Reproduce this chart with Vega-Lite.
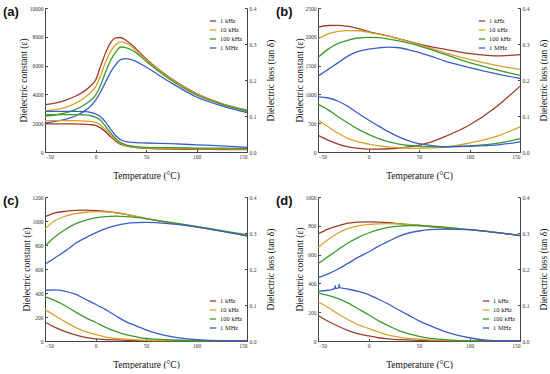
{
"$schema": "https://vega.github.io/schema/vega-lite/v6.json",
"background": "white",
"padding": {"left": 3, "top": 6, "right": 0, "bottom": 0},
"columns": 2,
"spacing": {"row": 45, "column": 71},
"bounds": "flush",
"resolve": {"legend": {"color": "independent"}},
"config": {
  "view": {"stroke": null},
  "axis": {"labelFont": "Liberation Serif", "titleFont": "Liberation Serif", "labelFontSize": 5.5, "titleFontSize": 9.5, "titleFontWeight": "normal", "labelColor": "#333", "titleColor": "#111", "domainColor": "#444", "tickColor": "#444", "grid": false, "tickSize": -2.5, "labelPadding": 4.5},
  "legend": {"labelFont": "Liberation Serif", "labelFontSize": 6.5, "labelColor": "#222", "symbolType": "stroke", "symbolSize": 40, "symbolStrokeWidth": 1.5, "rowPadding": 1, "labelOffset": 3, "padding": 0},
  "line": {"strokeWidth": 1.3, "interpolate": "monotone"},
  "title": {"font": "Liberation Sans", "fontSize": 13, "fontWeight": "bold", "color": "#111", "anchor": "start", "frame": "group", "offset": 0}
},
"data": {"values": [
{"p":"a","k":"e","f":"1 kHz","T":-50,"v":3290},{"p":"a","k":"e","f":"1 kHz","T":-40,"v":3400},{"p":"a","k":"e","f":"1 kHz","T":-30,"v":3590},{"p":"a","k":"e","f":"1 kHz","T":-20,"v":3870},{"p":"a","k":"e","f":"1 kHz","T":-10,"v":4280},{"p":"a","k":"e","f":"1 kHz","T":-5,"v":4580},{"p":"a","k":"e","f":"1 kHz","T":0,"v":4980},{"p":"a","k":"e","f":"1 kHz","T":5,"v":5950},{"p":"a","k":"e","f":"1 kHz","T":10,"v":6900},{"p":"a","k":"e","f":"1 kHz","T":15,"v":7600},{"p":"a","k":"e","f":"1 kHz","T":20,"v":7930},{"p":"a","k":"e","f":"1 kHz","T":25,"v":7950},{"p":"a","k":"e","f":"1 kHz","T":30,"v":7760},{"p":"a","k":"e","f":"1 kHz","T":40,"v":7180},{"p":"a","k":"e","f":"1 kHz","T":50,"v":6480},{"p":"a","k":"e","f":"1 kHz","T":75,"v":5100},{"p":"a","k":"e","f":"1 kHz","T":100,"v":4050},{"p":"a","k":"e","f":"1 kHz","T":125,"v":3360},{"p":"a","k":"e","f":"1 kHz","T":150,"v":2900},
{"p":"a","k":"e","f":"10 kHz","T":-50,"v":2850},{"p":"a","k":"e","f":"10 kHz","T":-40,"v":2940},{"p":"a","k":"e","f":"10 kHz","T":-30,"v":3100},{"p":"a","k":"e","f":"10 kHz","T":-20,"v":3380},{"p":"a","k":"e","f":"10 kHz","T":-10,"v":3820},{"p":"a","k":"e","f":"10 kHz","T":-5,"v":4120},{"p":"a","k":"e","f":"10 kHz","T":0,"v":4510},{"p":"a","k":"e","f":"10 kHz","T":5,"v":5300},{"p":"a","k":"e","f":"10 kHz","T":10,"v":6250},{"p":"a","k":"e","f":"10 kHz","T":15,"v":6990},{"p":"a","k":"e","f":"10 kHz","T":20,"v":7450},{"p":"a","k":"e","f":"10 kHz","T":25,"v":7650},{"p":"a","k":"e","f":"10 kHz","T":30,"v":7570},{"p":"a","k":"e","f":"10 kHz","T":40,"v":7060},{"p":"a","k":"e","f":"10 kHz","T":50,"v":6400},{"p":"a","k":"e","f":"10 kHz","T":75,"v":5060},{"p":"a","k":"e","f":"10 kHz","T":100,"v":4020},{"p":"a","k":"e","f":"10 kHz","T":125,"v":3340},{"p":"a","k":"e","f":"10 kHz","T":150,"v":2880},
{"p":"a","k":"e","f":"100 kHz","T":-50,"v":2500},{"p":"a","k":"e","f":"100 kHz","T":-40,"v":2570},{"p":"a","k":"e","f":"100 kHz","T":-30,"v":2710},{"p":"a","k":"e","f":"100 kHz","T":-20,"v":2940},{"p":"a","k":"e","f":"100 kHz","T":-10,"v":3310},{"p":"a","k":"e","f":"100 kHz","T":-5,"v":3580},{"p":"a","k":"e","f":"100 kHz","T":0,"v":3940},{"p":"a","k":"e","f":"100 kHz","T":5,"v":4630},{"p":"a","k":"e","f":"100 kHz","T":10,"v":5550},{"p":"a","k":"e","f":"100 kHz","T":15,"v":6370},{"p":"a","k":"e","f":"100 kHz","T":20,"v":6940},{"p":"a","k":"e","f":"100 kHz","T":25,"v":7290},{"p":"a","k":"e","f":"100 kHz","T":30,"v":7250},{"p":"a","k":"e","f":"100 kHz","T":40,"v":6900},{"p":"a","k":"e","f":"100 kHz","T":50,"v":6300},{"p":"a","k":"e","f":"100 kHz","T":75,"v":4980},{"p":"a","k":"e","f":"100 kHz","T":100,"v":3960},{"p":"a","k":"e","f":"100 kHz","T":125,"v":3300},{"p":"a","k":"e","f":"100 kHz","T":150,"v":2830},
{"p":"a","k":"e","f":"1 MHz","T":-50,"v":2010},{"p":"a","k":"e","f":"1 MHz","T":-40,"v":2130},{"p":"a","k":"e","f":"1 MHz","T":-30,"v":2270},{"p":"a","k":"e","f":"1 MHz","T":-20,"v":2500},{"p":"a","k":"e","f":"1 MHz","T":-10,"v":2890},{"p":"a","k":"e","f":"1 MHz","T":-5,"v":3180},{"p":"a","k":"e","f":"1 MHz","T":0,"v":3590},{"p":"a","k":"e","f":"1 MHz","T":5,"v":4170},{"p":"a","k":"e","f":"1 MHz","T":10,"v":4860},{"p":"a","k":"e","f":"1 MHz","T":15,"v":5550},{"p":"a","k":"e","f":"1 MHz","T":20,"v":6070},{"p":"a","k":"e","f":"1 MHz","T":25,"v":6410},{"p":"a","k":"e","f":"1 MHz","T":30,"v":6480},{"p":"a","k":"e","f":"1 MHz","T":40,"v":6300},{"p":"a","k":"e","f":"1 MHz","T":50,"v":5900},{"p":"a","k":"e","f":"1 MHz","T":75,"v":4800},{"p":"a","k":"e","f":"1 MHz","T":100,"v":3820},{"p":"a","k":"e","f":"1 MHz","T":125,"v":3200},{"p":"a","k":"e","f":"1 MHz","T":150,"v":2740},
{"p":"a","k":"l","f":"1 kHz","T":-50,"v":0.078},{"p":"a","k":"l","f":"1 kHz","T":-40,"v":0.078},{"p":"a","k":"l","f":"1 kHz","T":-30,"v":0.078},{"p":"a","k":"l","f":"1 kHz","T":-20,"v":0.078},{"p":"a","k":"l","f":"1 kHz","T":-10,"v":0.077},{"p":"a","k":"l","f":"1 kHz","T":-5,"v":0.076},{"p":"a","k":"l","f":"1 kHz","T":0,"v":0.074},{"p":"a","k":"l","f":"1 kHz","T":5,"v":0.067},{"p":"a","k":"l","f":"1 kHz","T":10,"v":0.056},{"p":"a","k":"l","f":"1 kHz","T":15,"v":0.042},{"p":"a","k":"l","f":"1 kHz","T":20,"v":0.030},{"p":"a","k":"l","f":"1 kHz","T":25,"v":0.021},{"p":"a","k":"l","f":"1 kHz","T":30,"v":0.017},{"p":"a","k":"l","f":"1 kHz","T":40,"v":0.012},{"p":"a","k":"l","f":"1 kHz","T":50,"v":0.010},{"p":"a","k":"l","f":"1 kHz","T":75,"v":0.008},{"p":"a","k":"l","f":"1 kHz","T":100,"v":0.0075},{"p":"a","k":"l","f":"1 kHz","T":125,"v":0.007},{"p":"a","k":"l","f":"1 kHz","T":150,"v":0.0065},
{"p":"a","k":"l","f":"10 kHz","T":-50,"v":0.087},{"p":"a","k":"l","f":"10 kHz","T":-40,"v":0.087},{"p":"a","k":"l","f":"10 kHz","T":-30,"v":0.087},{"p":"a","k":"l","f":"10 kHz","T":-20,"v":0.087},{"p":"a","k":"l","f":"10 kHz","T":-10,"v":0.086},{"p":"a","k":"l","f":"10 kHz","T":-5,"v":0.085},{"p":"a","k":"l","f":"10 kHz","T":0,"v":0.082},{"p":"a","k":"l","f":"10 kHz","T":5,"v":0.075},{"p":"a","k":"l","f":"10 kHz","T":10,"v":0.062},{"p":"a","k":"l","f":"10 kHz","T":15,"v":0.047},{"p":"a","k":"l","f":"10 kHz","T":20,"v":0.033},{"p":"a","k":"l","f":"10 kHz","T":25,"v":0.023},{"p":"a","k":"l","f":"10 kHz","T":30,"v":0.018},{"p":"a","k":"l","f":"10 kHz","T":40,"v":0.013},{"p":"a","k":"l","f":"10 kHz","T":50,"v":0.011},{"p":"a","k":"l","f":"10 kHz","T":75,"v":0.0095},{"p":"a","k":"l","f":"10 kHz","T":100,"v":0.009},{"p":"a","k":"l","f":"10 kHz","T":125,"v":0.0085},{"p":"a","k":"l","f":"10 kHz","T":150,"v":0.008},
{"p":"a","k":"l","f":"100 kHz","T":-50,"v":0.104},{"p":"a","k":"l","f":"100 kHz","T":-40,"v":0.104},{"p":"a","k":"l","f":"100 kHz","T":-30,"v":0.104},{"p":"a","k":"l","f":"100 kHz","T":-20,"v":0.104},{"p":"a","k":"l","f":"100 kHz","T":-10,"v":0.103},{"p":"a","k":"l","f":"100 kHz","T":-5,"v":0.101},{"p":"a","k":"l","f":"100 kHz","T":0,"v":0.097},{"p":"a","k":"l","f":"100 kHz","T":5,"v":0.088},{"p":"a","k":"l","f":"100 kHz","T":10,"v":0.071},{"p":"a","k":"l","f":"100 kHz","T":15,"v":0.053},{"p":"a","k":"l","f":"100 kHz","T":20,"v":0.037},{"p":"a","k":"l","f":"100 kHz","T":25,"v":0.026},{"p":"a","k":"l","f":"100 kHz","T":30,"v":0.020},{"p":"a","k":"l","f":"100 kHz","T":40,"v":0.015},{"p":"a","k":"l","f":"100 kHz","T":50,"v":0.013},{"p":"a","k":"l","f":"100 kHz","T":75,"v":0.012},{"p":"a","k":"l","f":"100 kHz","T":100,"v":0.011},{"p":"a","k":"l","f":"100 kHz","T":125,"v":0.0105},{"p":"a","k":"l","f":"100 kHz","T":150,"v":0.010},
{"p":"a","k":"l","f":"1 MHz","T":-50,"v":0.113},{"p":"a","k":"l","f":"1 MHz","T":-40,"v":0.113},{"p":"a","k":"l","f":"1 MHz","T":-30,"v":0.113},{"p":"a","k":"l","f":"1 MHz","T":-20,"v":0.113},{"p":"a","k":"l","f":"1 MHz","T":-10,"v":0.112},{"p":"a","k":"l","f":"1 MHz","T":-5,"v":0.110},{"p":"a","k":"l","f":"1 MHz","T":0,"v":0.106},{"p":"a","k":"l","f":"1 MHz","T":5,"v":0.098},{"p":"a","k":"l","f":"1 MHz","T":10,"v":0.083},{"p":"a","k":"l","f":"1 MHz","T":15,"v":0.063},{"p":"a","k":"l","f":"1 MHz","T":20,"v":0.045},{"p":"a","k":"l","f":"1 MHz","T":25,"v":0.034},{"p":"a","k":"l","f":"1 MHz","T":30,"v":0.029},{"p":"a","k":"l","f":"1 MHz","T":40,"v":0.026},{"p":"a","k":"l","f":"1 MHz","T":50,"v":0.025},{"p":"a","k":"l","f":"1 MHz","T":75,"v":0.023},{"p":"a","k":"l","f":"1 MHz","T":100,"v":0.020},{"p":"a","k":"l","f":"1 MHz","T":125,"v":0.017},{"p":"a","k":"l","f":"1 MHz","T":150,"v":0.013},

{"p":"b","k":"e","f":"1 kHz","T":-50,"v":2166},{"p":"b","k":"e","f":"1 kHz","T":-40,"v":2196},{"p":"b","k":"e","f":"1 kHz","T":-30,"v":2200},{"p":"b","k":"e","f":"1 kHz","T":-20,"v":2180},{"p":"b","k":"e","f":"1 kHz","T":-10,"v":2140},{"p":"b","k":"e","f":"1 kHz","T":0,"v":2090},{"p":"b","k":"e","f":"1 kHz","T":10,"v":2050},{"p":"b","k":"e","f":"1 kHz","T":20,"v":2010},{"p":"b","k":"e","f":"1 kHz","T":30,"v":1965},{"p":"b","k":"e","f":"1 kHz","T":40,"v":1920},{"p":"b","k":"e","f":"1 kHz","T":50,"v":1873},{"p":"b","k":"e","f":"1 kHz","T":60,"v":1835},{"p":"b","k":"e","f":"1 kHz","T":75,"v":1786},{"p":"b","k":"e","f":"1 kHz","T":100,"v":1710},{"p":"b","k":"e","f":"1 kHz","T":125,"v":1670},{"p":"b","k":"e","f":"1 kHz","T":150,"v":1690},
{"p":"b","k":"e","f":"10 kHz","T":-50,"v":1961},{"p":"b","k":"e","f":"10 kHz","T":-40,"v":2049},{"p":"b","k":"e","f":"10 kHz","T":-30,"v":2096},{"p":"b","k":"e","f":"10 kHz","T":-20,"v":2108},{"p":"b","k":"e","f":"10 kHz","T":-10,"v":2105},{"p":"b","k":"e","f":"10 kHz","T":0,"v":2078},{"p":"b","k":"e","f":"10 kHz","T":10,"v":2045},{"p":"b","k":"e","f":"10 kHz","T":20,"v":2010},{"p":"b","k":"e","f":"10 kHz","T":30,"v":1965},{"p":"b","k":"e","f":"10 kHz","T":40,"v":1915},{"p":"b","k":"e","f":"10 kHz","T":50,"v":1862},{"p":"b","k":"e","f":"10 kHz","T":60,"v":1810},{"p":"b","k":"e","f":"10 kHz","T":75,"v":1727},{"p":"b","k":"e","f":"10 kHz","T":100,"v":1610},{"p":"b","k":"e","f":"10 kHz","T":125,"v":1510},{"p":"b","k":"e","f":"10 kHz","T":150,"v":1434},
{"p":"b","k":"e","f":"100 kHz","T":-50,"v":1639},{"p":"b","k":"e","f":"100 kHz","T":-40,"v":1786},{"p":"b","k":"e","f":"100 kHz","T":-30,"v":1885},{"p":"b","k":"e","f":"100 kHz","T":-20,"v":1944},{"p":"b","k":"e","f":"100 kHz","T":-10,"v":1979},{"p":"b","k":"e","f":"100 kHz","T":0,"v":1990},{"p":"b","k":"e","f":"100 kHz","T":10,"v":1985},{"p":"b","k":"e","f":"100 kHz","T":20,"v":1960},{"p":"b","k":"e","f":"100 kHz","T":30,"v":1930},{"p":"b","k":"e","f":"100 kHz","T":40,"v":1890},{"p":"b","k":"e","f":"100 kHz","T":50,"v":1844},{"p":"b","k":"e","f":"100 kHz","T":60,"v":1790},{"p":"b","k":"e","f":"100 kHz","T":75,"v":1698},{"p":"b","k":"e","f":"100 kHz","T":100,"v":1552},{"p":"b","k":"e","f":"100 kHz","T":125,"v":1434},{"p":"b","k":"e","f":"100 kHz","T":150,"v":1329},
{"p":"b","k":"e","f":"1 MHz","T":-50,"v":1317},{"p":"b","k":"e","f":"1 MHz","T":-40,"v":1434},{"p":"b","k":"e","f":"1 MHz","T":-30,"v":1551},{"p":"b","k":"e","f":"1 MHz","T":-20,"v":1669},{"p":"b","k":"e","f":"1 MHz","T":-10,"v":1745},{"p":"b","k":"e","f":"1 MHz","T":0,"v":1786},{"p":"b","k":"e","f":"1 MHz","T":10,"v":1809},{"p":"b","k":"e","f":"1 MHz","T":20,"v":1821},{"p":"b","k":"e","f":"1 MHz","T":30,"v":1810},{"p":"b","k":"e","f":"1 MHz","T":40,"v":1775},{"p":"b","k":"e","f":"1 MHz","T":50,"v":1727},{"p":"b","k":"e","f":"1 MHz","T":60,"v":1675},{"p":"b","k":"e","f":"1 MHz","T":75,"v":1581},{"p":"b","k":"e","f":"1 MHz","T":100,"v":1464},{"p":"b","k":"e","f":"1 MHz","T":125,"v":1364},{"p":"b","k":"e","f":"1 MHz","T":150,"v":1276},
{"p":"b","k":"l","f":"1 kHz","T":-50,"v":0.047},{"p":"b","k":"l","f":"1 kHz","T":-40,"v":0.033},{"p":"b","k":"l","f":"1 kHz","T":-30,"v":0.022},{"p":"b","k":"l","f":"1 kHz","T":-20,"v":0.014},{"p":"b","k":"l","f":"1 kHz","T":-10,"v":0.010},{"p":"b","k":"l","f":"1 kHz","T":0,"v":0.008},{"p":"b","k":"l","f":"1 kHz","T":10,"v":0.008},{"p":"b","k":"l","f":"1 kHz","T":20,"v":0.009},{"p":"b","k":"l","f":"1 kHz","T":30,"v":0.011},{"p":"b","k":"l","f":"1 kHz","T":40,"v":0.014},{"p":"b","k":"l","f":"1 kHz","T":50,"v":0.019},{"p":"b","k":"l","f":"1 kHz","T":60,"v":0.026},{"p":"b","k":"l","f":"1 kHz","T":75,"v":0.042},{"p":"b","k":"l","f":"1 kHz","T":100,"v":0.075},{"p":"b","k":"l","f":"1 kHz","T":125,"v":0.122},{"p":"b","k":"l","f":"1 kHz","T":150,"v":0.183},
{"p":"b","k":"l","f":"10 kHz","T":-50,"v":0.089},{"p":"b","k":"l","f":"10 kHz","T":-40,"v":0.070},{"p":"b","k":"l","f":"10 kHz","T":-30,"v":0.052},{"p":"b","k":"l","f":"10 kHz","T":-20,"v":0.037},{"p":"b","k":"l","f":"10 kHz","T":-10,"v":0.028},{"p":"b","k":"l","f":"10 kHz","T":0,"v":0.022},{"p":"b","k":"l","f":"10 kHz","T":10,"v":0.017},{"p":"b","k":"l","f":"10 kHz","T":20,"v":0.014},{"p":"b","k":"l","f":"10 kHz","T":30,"v":0.012},{"p":"b","k":"l","f":"10 kHz","T":40,"v":0.010},{"p":"b","k":"l","f":"10 kHz","T":50,"v":0.010},{"p":"b","k":"l","f":"10 kHz","T":60,"v":0.011},{"p":"b","k":"l","f":"10 kHz","T":75,"v":0.013},{"p":"b","k":"l","f":"10 kHz","T":100,"v":0.025},{"p":"b","k":"l","f":"10 kHz","T":125,"v":0.042},{"p":"b","k":"l","f":"10 kHz","T":150,"v":0.070},
{"p":"b","k":"l","f":"100 kHz","T":-50,"v":0.133},{"p":"b","k":"l","f":"100 kHz","T":-40,"v":0.117},{"p":"b","k":"l","f":"100 kHz","T":-30,"v":0.098},{"p":"b","k":"l","f":"100 kHz","T":-20,"v":0.080},{"p":"b","k":"l","f":"100 kHz","T":-10,"v":0.063},{"p":"b","k":"l","f":"100 kHz","T":0,"v":0.049},{"p":"b","k":"l","f":"100 kHz","T":10,"v":0.037},{"p":"b","k":"l","f":"100 kHz","T":20,"v":0.028},{"p":"b","k":"l","f":"100 kHz","T":30,"v":0.022},{"p":"b","k":"l","f":"100 kHz","T":40,"v":0.018},{"p":"b","k":"l","f":"100 kHz","T":50,"v":0.016},{"p":"b","k":"l","f":"100 kHz","T":60,"v":0.015},{"p":"b","k":"l","f":"100 kHz","T":75,"v":0.014},{"p":"b","k":"l","f":"100 kHz","T":100,"v":0.017},{"p":"b","k":"l","f":"100 kHz","T":125,"v":0.023},{"p":"b","k":"l","f":"100 kHz","T":150,"v":0.037},
{"p":"b","k":"l","f":"1 MHz","T":-50,"v":0.153},{"p":"b","k":"l","f":"1 MHz","T":-40,"v":0.150},{"p":"b","k":"l","f":"1 MHz","T":-30,"v":0.141},{"p":"b","k":"l","f":"1 MHz","T":-20,"v":0.126},{"p":"b","k":"l","f":"1 MHz","T":-10,"v":0.107},{"p":"b","k":"l","f":"1 MHz","T":0,"v":0.089},{"p":"b","k":"l","f":"1 MHz","T":10,"v":0.072},{"p":"b","k":"l","f":"1 MHz","T":20,"v":0.056},{"p":"b","k":"l","f":"1 MHz","T":30,"v":0.042},{"p":"b","k":"l","f":"1 MHz","T":40,"v":0.031},{"p":"b","k":"l","f":"1 MHz","T":50,"v":0.023},{"p":"b","k":"l","f":"1 MHz","T":60,"v":0.019},{"p":"b","k":"l","f":"1 MHz","T":75,"v":0.015},{"p":"b","k":"l","f":"1 MHz","T":100,"v":0.016},{"p":"b","k":"l","f":"1 MHz","T":125,"v":0.019},{"p":"b","k":"l","f":"1 MHz","T":150,"v":0.028},

{"p":"c","k":"e","f":"1 kHz","T":-50,"v":1034},{"p":"c","k":"e","f":"1 kHz","T":-40,"v":1067},{"p":"c","k":"e","f":"1 kHz","T":-30,"v":1081},{"p":"c","k":"e","f":"1 kHz","T":-20,"v":1089},{"p":"c","k":"e","f":"1 kHz","T":-10,"v":1090},{"p":"c","k":"e","f":"1 kHz","T":0,"v":1087},{"p":"c","k":"e","f":"1 kHz","T":10,"v":1081},{"p":"c","k":"e","f":"1 kHz","T":20,"v":1070},{"p":"c","k":"e","f":"1 kHz","T":30,"v":1056},{"p":"c","k":"e","f":"1 kHz","T":40,"v":1038},{"p":"c","k":"e","f":"1 kHz","T":50,"v":1020},{"p":"c","k":"e","f":"1 kHz","T":60,"v":1006},{"p":"c","k":"e","f":"1 kHz","T":75,"v":984},{"p":"c","k":"e","f":"1 kHz","T":100,"v":951},{"p":"c","k":"e","f":"1 kHz","T":125,"v":915},{"p":"c","k":"e","f":"1 kHz","T":150,"v":879},
{"p":"c","k":"e","f":"10 kHz","T":-50,"v":935},{"p":"c","k":"e","f":"10 kHz","T":-40,"v":1004},{"p":"c","k":"e","f":"10 kHz","T":-30,"v":1040},{"p":"c","k":"e","f":"10 kHz","T":-20,"v":1062},{"p":"c","k":"e","f":"10 kHz","T":-10,"v":1073},{"p":"c","k":"e","f":"10 kHz","T":0,"v":1078},{"p":"c","k":"e","f":"10 kHz","T":10,"v":1076},{"p":"c","k":"e","f":"10 kHz","T":20,"v":1068},{"p":"c","k":"e","f":"10 kHz","T":30,"v":1055},{"p":"c","k":"e","f":"10 kHz","T":40,"v":1038},{"p":"c","k":"e","f":"10 kHz","T":50,"v":1020},{"p":"c","k":"e","f":"10 kHz","T":60,"v":1006},{"p":"c","k":"e","f":"10 kHz","T":75,"v":984},{"p":"c","k":"e","f":"10 kHz","T":100,"v":951},{"p":"c","k":"e","f":"10 kHz","T":125,"v":915},{"p":"c","k":"e","f":"10 kHz","T":150,"v":879},
{"p":"c","k":"e","f":"100 kHz","T":-50,"v":791},{"p":"c","k":"e","f":"100 kHz","T":-40,"v":868},{"p":"c","k":"e","f":"100 kHz","T":-30,"v":929},{"p":"c","k":"e","f":"100 kHz","T":-20,"v":976},{"p":"c","k":"e","f":"100 kHz","T":-10,"v":1006},{"p":"c","k":"e","f":"100 kHz","T":0,"v":1026},{"p":"c","k":"e","f":"100 kHz","T":10,"v":1037},{"p":"c","k":"e","f":"100 kHz","T":20,"v":1040},{"p":"c","k":"e","f":"100 kHz","T":30,"v":1037},{"p":"c","k":"e","f":"100 kHz","T":40,"v":1030},{"p":"c","k":"e","f":"100 kHz","T":50,"v":1020},{"p":"c","k":"e","f":"100 kHz","T":60,"v":1006},{"p":"c","k":"e","f":"100 kHz","T":75,"v":988},{"p":"c","k":"e","f":"100 kHz","T":100,"v":955},{"p":"c","k":"e","f":"100 kHz","T":125,"v":920},{"p":"c","k":"e","f":"100 kHz","T":150,"v":886},
{"p":"c","k":"e","f":"1 MHz","T":-50,"v":639},{"p":"c","k":"e","f":"1 MHz","T":-40,"v":694},{"p":"c","k":"e","f":"1 MHz","T":-30,"v":749},{"p":"c","k":"e","f":"1 MHz","T":-20,"v":813},{"p":"c","k":"e","f":"1 MHz","T":-10,"v":860},{"p":"c","k":"e","f":"1 MHz","T":0,"v":901},{"p":"c","k":"e","f":"1 MHz","T":10,"v":937},{"p":"c","k":"e","f":"1 MHz","T":20,"v":962},{"p":"c","k":"e","f":"1 MHz","T":30,"v":979},{"p":"c","k":"e","f":"1 MHz","T":40,"v":986},{"p":"c","k":"e","f":"1 MHz","T":50,"v":988},{"p":"c","k":"e","f":"1 MHz","T":60,"v":986},{"p":"c","k":"e","f":"1 MHz","T":75,"v":976},{"p":"c","k":"e","f":"1 MHz","T":100,"v":951},{"p":"c","k":"e","f":"1 MHz","T":125,"v":915},{"p":"c","k":"e","f":"1 MHz","T":150,"v":874},
{"p":"c","k":"l","f":"1 kHz","T":-50,"v":0.052},{"p":"c","k":"l","f":"1 kHz","T":-40,"v":0.038},{"p":"c","k":"l","f":"1 kHz","T":-30,"v":0.026},{"p":"c","k":"l","f":"1 kHz","T":-20,"v":0.017},{"p":"c","k":"l","f":"1 kHz","T":-10,"v":0.010},{"p":"c","k":"l","f":"1 kHz","T":0,"v":0.006},{"p":"c","k":"l","f":"1 kHz","T":10,"v":0.004},{"p":"c","k":"l","f":"1 kHz","T":20,"v":0.003},{"p":"c","k":"l","f":"1 kHz","T":30,"v":0.002},{"p":"c","k":"l","f":"1 kHz","T":40,"v":0.001},{"p":"c","k":"l","f":"1 kHz","T":50,"v":0.001},{"p":"c","k":"l","f":"1 kHz","T":60,"v":0.001},{"p":"c","k":"l","f":"1 kHz","T":75,"v":0.001},{"p":"c","k":"l","f":"1 kHz","T":100,"v":0.001},{"p":"c","k":"l","f":"1 kHz","T":125,"v":0.001},{"p":"c","k":"l","f":"1 kHz","T":150,"v":0.001},
{"p":"c","k":"l","f":"10 kHz","T":-50,"v":0.088},{"p":"c","k":"l","f":"10 kHz","T":-40,"v":0.070},{"p":"c","k":"l","f":"10 kHz","T":-30,"v":0.053},{"p":"c","k":"l","f":"10 kHz","T":-20,"v":0.038},{"p":"c","k":"l","f":"10 kHz","T":-10,"v":0.026},{"p":"c","k":"l","f":"10 kHz","T":0,"v":0.018},{"p":"c","k":"l","f":"10 kHz","T":10,"v":0.011},{"p":"c","k":"l","f":"10 kHz","T":20,"v":0.007},{"p":"c","k":"l","f":"10 kHz","T":30,"v":0.005},{"p":"c","k":"l","f":"10 kHz","T":40,"v":0.003},{"p":"c","k":"l","f":"10 kHz","T":50,"v":0.002},{"p":"c","k":"l","f":"10 kHz","T":60,"v":0.001},{"p":"c","k":"l","f":"10 kHz","T":75,"v":0.001},{"p":"c","k":"l","f":"10 kHz","T":100,"v":0.001},{"p":"c","k":"l","f":"10 kHz","T":125,"v":0.001},{"p":"c","k":"l","f":"10 kHz","T":150,"v":0.001},
{"p":"c","k":"l","f":"100 kHz","T":-50,"v":0.123},{"p":"c","k":"l","f":"100 kHz","T":-40,"v":0.112},{"p":"c","k":"l","f":"100 kHz","T":-30,"v":0.098},{"p":"c","k":"l","f":"100 kHz","T":-20,"v":0.081},{"p":"c","k":"l","f":"100 kHz","T":-10,"v":0.065},{"p":"c","k":"l","f":"100 kHz","T":0,"v":0.052},{"p":"c","k":"l","f":"100 kHz","T":10,"v":0.038},{"p":"c","k":"l","f":"100 kHz","T":20,"v":0.027},{"p":"c","k":"l","f":"100 kHz","T":30,"v":0.018},{"p":"c","k":"l","f":"100 kHz","T":40,"v":0.012},{"p":"c","k":"l","f":"100 kHz","T":50,"v":0.007},{"p":"c","k":"l","f":"100 kHz","T":60,"v":0.005},{"p":"c","k":"l","f":"100 kHz","T":75,"v":0.003},{"p":"c","k":"l","f":"100 kHz","T":100,"v":0.001},{"p":"c","k":"l","f":"100 kHz","T":125,"v":0.001},{"p":"c","k":"l","f":"100 kHz","T":150,"v":0.001},
{"p":"c","k":"l","f":"1 MHz","T":-50,"v":0.141},{"p":"c","k":"l","f":"1 MHz","T":-40,"v":0.142},{"p":"c","k":"l","f":"1 MHz","T":-30,"v":0.138},{"p":"c","k":"l","f":"1 MHz","T":-20,"v":0.130},{"p":"c","k":"l","f":"1 MHz","T":-10,"v":0.116},{"p":"c","k":"l","f":"1 MHz","T":0,"v":0.102},{"p":"c","k":"l","f":"1 MHz","T":10,"v":0.087},{"p":"c","k":"l","f":"1 MHz","T":20,"v":0.070},{"p":"c","k":"l","f":"1 MHz","T":30,"v":0.054},{"p":"c","k":"l","f":"1 MHz","T":40,"v":0.042},{"p":"c","k":"l","f":"1 MHz","T":50,"v":0.031},{"p":"c","k":"l","f":"1 MHz","T":60,"v":0.022},{"p":"c","k":"l","f":"1 MHz","T":75,"v":0.012},{"p":"c","k":"l","f":"1 MHz","T":100,"v":0.004},{"p":"c","k":"l","f":"1 MHz","T":125,"v":0.001},{"p":"c","k":"l","f":"1 MHz","T":150,"v":0.001},

{"p":"d","k":"e","f":"1 kHz","T":-50,"v":743},{"p":"d","k":"e","f":"1 kHz","T":-40,"v":777},{"p":"d","k":"e","f":"1 kHz","T":-30,"v":800},{"p":"d","k":"e","f":"1 kHz","T":-20,"v":818},{"p":"d","k":"e","f":"1 kHz","T":-10,"v":825},{"p":"d","k":"e","f":"1 kHz","T":0,"v":827},{"p":"d","k":"e","f":"1 kHz","T":10,"v":826},{"p":"d","k":"e","f":"1 kHz","T":20,"v":822},{"p":"d","k":"e","f":"1 kHz","T":30,"v":815},{"p":"d","k":"e","f":"1 kHz","T":40,"v":808},{"p":"d","k":"e","f":"1 kHz","T":50,"v":802},{"p":"d","k":"e","f":"1 kHz","T":60,"v":795},{"p":"d","k":"e","f":"1 kHz","T":75,"v":784},{"p":"d","k":"e","f":"1 kHz","T":100,"v":773},{"p":"d","k":"e","f":"1 kHz","T":125,"v":755},{"p":"d","k":"e","f":"1 kHz","T":150,"v":732},
{"p":"d","k":"e","f":"10 kHz","T":-50,"v":648},{"p":"d","k":"e","f":"10 kHz","T":-40,"v":705},{"p":"d","k":"e","f":"10 kHz","T":-30,"v":750},{"p":"d","k":"e","f":"10 kHz","T":-20,"v":782},{"p":"d","k":"e","f":"10 kHz","T":-10,"v":800},{"p":"d","k":"e","f":"10 kHz","T":0,"v":809},{"p":"d","k":"e","f":"10 kHz","T":10,"v":814},{"p":"d","k":"e","f":"10 kHz","T":20,"v":815},{"p":"d","k":"e","f":"10 kHz","T":30,"v":813},{"p":"d","k":"e","f":"10 kHz","T":40,"v":809},{"p":"d","k":"e","f":"10 kHz","T":50,"v":805},{"p":"d","k":"e","f":"10 kHz","T":60,"v":798},{"p":"d","k":"e","f":"10 kHz","T":75,"v":789},{"p":"d","k":"e","f":"10 kHz","T":100,"v":773},{"p":"d","k":"e","f":"10 kHz","T":125,"v":755},{"p":"d","k":"e","f":"10 kHz","T":150,"v":732},
{"p":"d","k":"e","f":"100 kHz","T":-50,"v":536},{"p":"d","k":"e","f":"100 kHz","T":-40,"v":586},{"p":"d","k":"e","f":"100 kHz","T":-30,"v":636},{"p":"d","k":"e","f":"100 kHz","T":-20,"v":682},{"p":"d","k":"e","f":"100 kHz","T":-10,"v":720},{"p":"d","k":"e","f":"100 kHz","T":0,"v":750},{"p":"d","k":"e","f":"100 kHz","T":10,"v":773},{"p":"d","k":"e","f":"100 kHz","T":20,"v":789},{"p":"d","k":"e","f":"100 kHz","T":30,"v":798},{"p":"d","k":"e","f":"100 kHz","T":40,"v":802},{"p":"d","k":"e","f":"100 kHz","T":50,"v":802},{"p":"d","k":"e","f":"100 kHz","T":60,"v":798},{"p":"d","k":"e","f":"100 kHz","T":75,"v":791},{"p":"d","k":"e","f":"100 kHz","T":100,"v":773},{"p":"d","k":"e","f":"100 kHz","T":125,"v":755},{"p":"d","k":"e","f":"100 kHz","T":150,"v":732},
{"p":"d","k":"e","f":"1 MHz","T":-50,"v":439},{"p":"d","k":"e","f":"1 MHz","T":-40,"v":466},{"p":"d","k":"e","f":"1 MHz","T":-30,"v":500},{"p":"d","k":"e","f":"1 MHz","T":-20,"v":541},{"p":"d","k":"e","f":"1 MHz","T":-10,"v":582},{"p":"d","k":"e","f":"1 MHz","T":0,"v":618},{"p":"d","k":"e","f":"1 MHz","T":10,"v":659},{"p":"d","k":"e","f":"1 MHz","T":20,"v":693},{"p":"d","k":"e","f":"1 MHz","T":30,"v":727},{"p":"d","k":"e","f":"1 MHz","T":40,"v":750},{"p":"d","k":"e","f":"1 MHz","T":50,"v":764},{"p":"d","k":"e","f":"1 MHz","T":60,"v":773},{"p":"d","k":"e","f":"1 MHz","T":75,"v":777},{"p":"d","k":"e","f":"1 MHz","T":100,"v":773},{"p":"d","k":"e","f":"1 MHz","T":125,"v":755},{"p":"d","k":"e","f":"1 MHz","T":150,"v":732},
{"p":"d","k":"l","f":"1 kHz","T":-50,"v":0.071},{"p":"d","k":"l","f":"1 kHz","T":-40,"v":0.055},{"p":"d","k":"l","f":"1 kHz","T":-30,"v":0.041},{"p":"d","k":"l","f":"1 kHz","T":-20,"v":0.029},{"p":"d","k":"l","f":"1 kHz","T":-10,"v":0.020},{"p":"d","k":"l","f":"1 kHz","T":0,"v":0.014},{"p":"d","k":"l","f":"1 kHz","T":10,"v":0.009},{"p":"d","k":"l","f":"1 kHz","T":20,"v":0.006},{"p":"d","k":"l","f":"1 kHz","T":30,"v":0.004},{"p":"d","k":"l","f":"1 kHz","T":40,"v":0.003},{"p":"d","k":"l","f":"1 kHz","T":50,"v":0.002},{"p":"d","k":"l","f":"1 kHz","T":60,"v":0.001},{"p":"d","k":"l","f":"1 kHz","T":75,"v":0.001},{"p":"d","k":"l","f":"1 kHz","T":100,"v":0.001},{"p":"d","k":"l","f":"1 kHz","T":125,"v":0.001},{"p":"d","k":"l","f":"1 kHz","T":150,"v":0.001},
{"p":"d","k":"l","f":"10 kHz","T":-50,"v":0.109},{"p":"d","k":"l","f":"10 kHz","T":-40,"v":0.093},{"p":"d","k":"l","f":"10 kHz","T":-30,"v":0.075},{"p":"d","k":"l","f":"10 kHz","T":-20,"v":0.059},{"p":"d","k":"l","f":"10 kHz","T":-10,"v":0.045},{"p":"d","k":"l","f":"10 kHz","T":0,"v":0.035},{"p":"d","k":"l","f":"10 kHz","T":10,"v":0.025},{"p":"d","k":"l","f":"10 kHz","T":20,"v":0.016},{"p":"d","k":"l","f":"10 kHz","T":30,"v":0.011},{"p":"d","k":"l","f":"10 kHz","T":40,"v":0.007},{"p":"d","k":"l","f":"10 kHz","T":50,"v":0.005},{"p":"d","k":"l","f":"10 kHz","T":60,"v":0.003},{"p":"d","k":"l","f":"10 kHz","T":75,"v":0.002},{"p":"d","k":"l","f":"10 kHz","T":100,"v":0.001},{"p":"d","k":"l","f":"10 kHz","T":125,"v":0.001},{"p":"d","k":"l","f":"10 kHz","T":150,"v":0.001},
{"p":"d","k":"l","f":"100 kHz","T":-50,"v":0.134},{"p":"d","k":"l","f":"100 kHz","T":-40,"v":0.127},{"p":"d","k":"l","f":"100 kHz","T":-30,"v":0.118},{"p":"d","k":"l","f":"100 kHz","T":-20,"v":0.105},{"p":"d","k":"l","f":"100 kHz","T":-10,"v":0.089},{"p":"d","k":"l","f":"100 kHz","T":0,"v":0.073},{"p":"d","k":"l","f":"100 kHz","T":10,"v":0.056},{"p":"d","k":"l","f":"100 kHz","T":20,"v":0.042},{"p":"d","k":"l","f":"100 kHz","T":30,"v":0.029},{"p":"d","k":"l","f":"100 kHz","T":40,"v":0.020},{"p":"d","k":"l","f":"100 kHz","T":50,"v":0.013},{"p":"d","k":"l","f":"100 kHz","T":60,"v":0.008},{"p":"d","k":"l","f":"100 kHz","T":75,"v":0.004},{"p":"d","k":"l","f":"100 kHz","T":100,"v":0.001},{"p":"d","k":"l","f":"100 kHz","T":125,"v":0.001},{"p":"d","k":"l","f":"100 kHz","T":150,"v":0.001},
{"p":"d","k":"l","f":"1 MHz","T":-50,"v":0.138},{"p":"d","k":"l","f":"1 MHz","T":-40,"v":0.141},{"p":"d","k":"l","f":"1 MHz","T":-35,"v":0.144},{"p":"d","k":"l","f":"1 MHz","T":-33.5,"v":0.146},{"p":"d","k":"l","f":"1 MHz","T":-33,"v":0.154},{"p":"d","k":"l","f":"1 MHz","T":-32.5,"v":0.146},{"p":"d","k":"l","f":"1 MHz","T":-30,"v":0.147},{"p":"d","k":"l","f":"1 MHz","T":-29.5,"v":0.149},{"p":"d","k":"l","f":"1 MHz","T":-29,"v":0.158},{"p":"d","k":"l","f":"1 MHz","T":-28.5,"v":0.148},{"p":"d","k":"l","f":"1 MHz","T":-20,"v":0.144},{"p":"d","k":"l","f":"1 MHz","T":-10,"v":0.138},{"p":"d","k":"l","f":"1 MHz","T":0,"v":0.129},{"p":"d","k":"l","f":"1 MHz","T":10,"v":0.116},{"p":"d","k":"l","f":"1 MHz","T":20,"v":0.102},{"p":"d","k":"l","f":"1 MHz","T":30,"v":0.086},{"p":"d","k":"l","f":"1 MHz","T":40,"v":0.071},{"p":"d","k":"l","f":"1 MHz","T":50,"v":0.056},{"p":"d","k":"l","f":"1 MHz","T":60,"v":0.044},{"p":"d","k":"l","f":"1 MHz","T":75,"v":0.027},{"p":"d","k":"l","f":"1 MHz","T":100,"v":0.009},{"p":"d","k":"l","f":"1 MHz","T":125,"v":0.001},{"p":"d","k":"l","f":"1 MHz","T":150,"v":0.001}
]},
"concat": [
{
 "title": {"text": "(a)", "dx": -42, "dy": 17},
 "width": 202, "height": 144,
 "transform": [{"filter": "datum.p === 'a'"}],
 "encoding": {
  "x": {"field": "T", "type": "quantitative", "scale": {"domain": [-50, 150], "nice": false}, "axis": {"values": [-50, 0, 50, 100, 150], "title": "Temperature (°C)", "titlePadding": 11}},
  "color": {"field": "f", "type": "nominal", "scale": {"domain": ["1 kHz", "10 kHz", "100 kHz", "1 MHz"], "range": ["#9a3d2b", "#d9a12b", "#3a9b2f", "#3a5dc9"]}, "legend": {"orient": "none", "legendX": 164, "legendY": 9, "title": null}}
 },
 "layer": [
  {"transform": [{"filter": "datum.k === 'e'"}], "mark": "line", "encoding": {"y": {"field": "v", "type": "quantitative", "scale": {"domain": [0, 10000], "nice": false}, "axis": {"values": [0, 2000, 4000, 6000, 8000, 10000], "format": "d", "title": "Dielectric constant (ε)", "titlePadding": 1}}}},
  {"transform": [{"filter": "datum.k === 'l'"}], "mark": "line", "encoding": {"y": {"field": "v", "type": "quantitative", "scale": {"domain": [0, 0.4], "nice": false}, "axis": {"orient": "right", "values": [0, 0.1, 0.2, 0.3, 0.4], "format": ".1f", "title": "Dielectric loss (tan δ)", "titleAngle": 270, "titlePadding": 20}}}}
 ],
 "resolve": {"scale": {"y": "independent"}}
},
{
 "title": {"text": "(b)", "dx": -42, "dy": 17},
 "width": 202, "height": 144,
 "transform": [{"filter": "datum.p === 'b'"}],
 "encoding": {
  "x": {"field": "T", "type": "quantitative", "scale": {"domain": [-50, 150], "nice": false}, "axis": {"values": [-50, 0, 50, 100, 150], "title": "Temperature (°C)", "titlePadding": 11}},
  "color": {"field": "f", "type": "nominal", "scale": {"domain": ["1 kHz", "10 kHz", "100 kHz", "1 MHz"], "range": ["#9a3d2b", "#d9a12b", "#3a9b2f", "#3a5dc9"]}, "legend": {"orient": "none", "legendX": 160, "legendY": 9, "title": null}}
 },
 "layer": [
  {"transform": [{"filter": "datum.k === 'e'"}], "mark": "line", "encoding": {"y": {"field": "v", "type": "quantitative", "scale": {"domain": [0, 2500], "nice": false}, "axis": {"values": [0, 500, 1000, 1500, 2000, 2500], "format": "d", "title": "Dielectric constant (ε)", "titlePadding": 1}}}},
  {"transform": [{"filter": "datum.k === 'l'"}], "mark": "line", "encoding": {"y": {"field": "v", "type": "quantitative", "scale": {"domain": [0, 0.4], "nice": false}, "axis": {"orient": "right", "values": [0, 0.1, 0.2, 0.3, 0.4], "format": ".1f", "title": "Dielectric loss (tan δ)", "titleAngle": 270, "titlePadding": 20}}}}
 ],
 "resolve": {"scale": {"y": "independent"}}
},
{
 "title": {"text": "(c)", "dx": -42, "dy": 17},
 "width": 202, "height": 144,
 "transform": [{"filter": "datum.p === 'c'"}],
 "encoding": {
  "x": {"field": "T", "type": "quantitative", "scale": {"domain": [-50, 150], "nice": false}, "axis": {"values": [-50, 0, 50, 100, 150], "title": "Temperature (°C)", "titlePadding": 11}},
  "color": {"field": "f", "type": "nominal", "scale": {"domain": ["1 kHz", "10 kHz", "100 kHz", "1 MHz"], "range": ["#9a3d2b", "#d9a12b", "#3a9b2f", "#3a5dc9"]}, "legend": {"orient": "none", "legendX": 164, "legendY": 100, "title": null}}
 },
 "layer": [
  {"transform": [{"filter": "datum.k === 'e'"}], "mark": "line", "encoding": {"y": {"field": "v", "type": "quantitative", "scale": {"domain": [0, 1200], "nice": false}, "axis": {"values": [0, 200, 400, 600, 800, 1000, 1200], "format": "d", "title": "Dielectric constant (ε)", "titlePadding": 1}}}},
  {"transform": [{"filter": "datum.k === 'l'"}], "mark": "line", "encoding": {"y": {"field": "v", "type": "quantitative", "scale": {"domain": [0, 0.4], "nice": false}, "axis": {"orient": "right", "values": [0, 0.1, 0.2, 0.3, 0.4], "format": ".1f", "title": "Dielectric loss (tan δ)", "titleAngle": 270, "titlePadding": 20}}}}
 ],
 "resolve": {"scale": {"y": "independent"}}
},
{
 "title": {"text": "(d)", "dx": -42, "dy": 17},
 "width": 202, "height": 144,
 "transform": [{"filter": "datum.p === 'd'"}],
 "encoding": {
  "x": {"field": "T", "type": "quantitative", "scale": {"domain": [-50, 150], "nice": false}, "axis": {"values": [-50, 0, 50, 100, 150], "title": "Temperature (°C)", "titlePadding": 11}},
  "color": {"field": "f", "type": "nominal", "scale": {"domain": ["1 kHz", "10 kHz", "100 kHz", "1 MHz"], "range": ["#9a3d2b", "#d9a12b", "#3a9b2f", "#3a5dc9"]}, "legend": {"orient": "none", "legendX": 164, "legendY": 100, "title": null}}
 },
 "layer": [
  {"transform": [{"filter": "datum.k === 'e'"}], "mark": "line", "encoding": {"y": {"field": "v", "type": "quantitative", "scale": {"domain": [0, 1000], "nice": false}, "axis": {"values": [0, 200, 400, 600, 800, 1000], "format": "d", "title": "Dielectric constant (ε)", "titlePadding": 1}}}},
  {"transform": [{"filter": "datum.k === 'l'"}], "mark": "line", "encoding": {"y": {"field": "v", "type": "quantitative", "scale": {"domain": [0, 0.4], "nice": false}, "axis": {"orient": "right", "values": [0, 0.1, 0.2, 0.3, 0.4], "format": ".1f", "title": "Dielectric loss (tan δ)", "titleAngle": 270, "titlePadding": 20}}}}
 ],
 "resolve": {"scale": {"y": "independent"}}
}
]
}
